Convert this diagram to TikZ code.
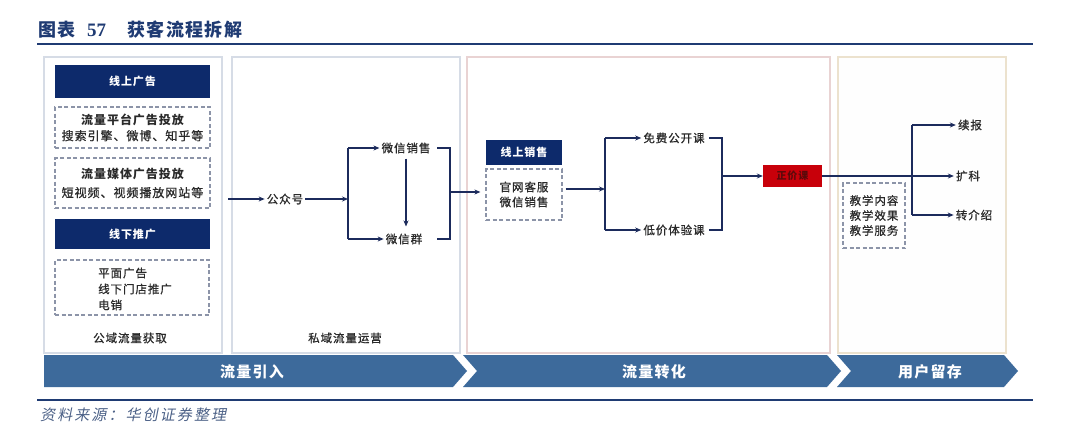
\documentclass[tikz,border=0pt]{standalone}
\usepackage{fontspec}
\usetikzlibrary{arrows.meta}
\setmainfont{Noto Sans CJK SC}
\newfontfamily\cjk[LetterSpace=8]{Noto Sans CJK SC}
\newfontfamily\cjkh[LetterSpace=8,FakeBold=0.8]{Noto Sans CJK SC}
\newfontfamily\cjkit[FakeSlant=0.2,LetterSpace=14]{Noto Sans CJK SC}
\newfontfamily\serifnum{Liberation Serif}
\definecolor{navy}{HTML}{0D2A6B}
\definecolor{titleblue}{HTML}{1F3B73}
\definecolor{chev}{HTML}{3D6A9B}
\definecolor{linec}{HTML}{1C2B5C}
\definecolor{txt}{HTML}{2A2A2A}
\definecolor{dashc}{HTML}{8C94A8}
\definecolor{pan12}{HTML}{D6DCE6}
\definecolor{pan3}{HTML}{E9D3D3}
\definecolor{pan4}{HTML}{ECE2CE}
\definecolor{redbox}{HTML}{C8000A}
\definecolor{darkred}{HTML}{5A0A0A}
\definecolor{srcc}{HTML}{4C6187}
\tikzset{
  panel/.style={draw=#1, line width=1.3pt, fill=white, inner sep=0pt},
  navybox/.style={fill=navy, text=white, inner sep=0pt, font=\cjk\bfseries\fontsize{11}{13}\selectfont},
  dbox/.style={draw=dashc, dash pattern=on 4pt off 2.5pt, line width=1.2pt, inner sep=0pt, align=center, text=txt},
  lbl/.style={text=txt, inner sep=2pt, font=\cjkh\fontsize{11.5}{14}\selectfont},
  flow/.style={draw=linec, line width=1.6pt},
  arr/.style={flow, -{Stealth[length=6pt,width=5pt]}},
  chevtext/.style={text=white, inner sep=0pt, font=\cjk\bfseries\fontsize{15}{18}\selectfont},
  ttl/.style={anchor=west, inner sep=0pt, text=titleblue}
}
\begin{document}
\begin{tikzpicture}[x=1pt,y=-1pt]
\useasboundingbox[fill=white] (0,0) rectangle (1080,442);
% title
\node[ttl, font=\cjk\bfseries\fontsize{18}{20}\selectfont] (t1) at (38,30) {图表};
\node[ttl, font=\serifnum\bfseries\fontsize{19}{20}\selectfont] (t2) at (87,30) {57};
\node[ttl, font=\cjk\bfseries\fontsize{18}{20}\selectfont] (t3) at (127,30) {获客流程拆解};
\coordinate (r1a) at (37,44); \coordinate (r1b) at (1033,44);
\draw[titleblue, line width=2.2pt] (r1a) -- (r1b);
% panels
\node[panel=pan12, minimum width=178, minimum height=296] (p1) at (133,205) {};
\node[panel=pan12, minimum width=228, minimum height=296] (p2) at (346,205) {};
\node[panel=pan3, minimum width=363, minimum height=296] (p3) at (648.5,205) {};
\node[panel=pan4, fill=white!97!pan4, minimum width=168, minimum height=296] (p4) at (922,205) {};
% panel 1
\node[navybox, minimum width=155, minimum height=33] (adon) at (132.5,81.5) {线上广告};
\node[dbox, minimum width=155, minimum height=41, font=\cjkh\fontsize{12}{16}\selectfont] (db1) at (132.5,127.5) {{\cjk\bfseries 流量平台广告投放}\\搜索引擎、微博、知乎等};
\node[dbox, minimum width=155, minimum height=50, font=\cjkh\fontsize{12}{19}\selectfont] (db2) at (132.5,183) {{\cjk\bfseries 流量媒体广告投放}\\短视频、视频播放网站等};
\node[navybox, minimum width=155, minimum height=30] (adoff) at (132.5,234) {线下推广};
\node[dbox, minimum width=154, minimum height=55] (db3) at (132,287.5) {};
\node[lbl, anchor=west, align=left, font=\cjkh\fontsize{11.5}{16}\selectfont] (db3t) at (96,289) {平面广告\\线下门店推广\\电销};
\node[lbl] (pubL) at (130,338) {公域流量获取};
% panel 2
\coordinate (s0) at (228,199);
\node[lbl] (gzh) at (285,199) {公众号};
\coordinate (j1) at (348,199);
\coordinate (j1t) at (348,148);
\coordinate (j1b) at (348,239);
\node[lbl] (wxs) at (406,148) {微信销售};
\node[lbl] (wxq) at (404,239) {微信群};
\draw[arr] (s0) -- (gzh);
\draw[arr] (gzh) -- (j1);
\draw[flow] (j1t) -- (j1b);
\draw[arr] (j1t) -- (wxs);
\draw[arr] (j1b) -- (wxq);
\draw[arr, shorten <=3pt, shorten >=5pt] (wxs.south) -- (wxs.south |- wxq.north);
\coordinate (b1a) at (437,148);
\coordinate (b1m) at (450,192);
\coordinate (b1d) at (437,239);
\draw[flow] (b1a) -| (b1m) |- (b1d);
\node[lbl] (priL) at (345,338) {私域流量运营};
% panel 3
\node[navybox, minimum width=76, minimum height=25] (sl) at (524,152.5) {线上销售};
\node[dbox, minimum width=76, minimum height=51, font=\cjkh\fontsize{11.5}{15}\selectfont] (db4) at (524,194.5) {官网客服\\微信销售};
\draw[arr, shorten >=5pt] (b1m) -- (b1m -| db4.west);
\coordinate (j2) at (605,189);
\coordinate (j2t) at (605,138);
\coordinate (j2b) at (605,230);
\draw[arr, shorten <=3pt] (db4.east |- j2) -- (j2);
\draw[flow] (j2t) -- (j2b);
\node[lbl] (mf) at (674,138) {免费公开课};
\node[lbl] (dj) at (674,230) {低价体验课};
\draw[arr] (j2t) -- (mf);
\draw[arr] (j2b) -- (dj);
\coordinate (b2a) at (709,138);
\coordinate (b2m) at (722,176);
\coordinate (b2d) at (709,230);
\draw[flow] (b2a) -| (b2m) |- (b2d);
\node[fill=redbox, inner sep=0pt, minimum width=59, minimum height=22, text=darkred, font=\cjk\bfseries\fontsize{10}{12}\selectfont] (zj) at (792.5,176) {正价课};
\draw[arr] (b2m) -- (b2m -| zj.west);
% panel 4
\coordinate (j3t) at (912,125);
\coordinate (j3b) at (912,215);
\node[lbl] (kk) at (968,176) {扩科};
\node[lbl] (xb) at (970,125) {续报};
\node[lbl] (zjs) at (974,215) {转介绍};
\draw[arr] (zj.east) -- (kk);
\draw[flow] (j3t) -- (j3b);
\draw[arr] (j3t) -- (xb);
\draw[arr] (j3b) -- (zjs);
\node[dbox, minimum width=62, minimum height=65, font=\cjkh\fontsize{11.5}{15}\selectfont] (db5) at (874,215.5) {教学内容\\教学效果\\教学服务};
% chevrons
\fill[chev] (44,355) -- (453,355) -- (467,371) -- (453,387) -- (44,387) -- cycle;
\fill[chev] (463,355) -- (827,355) -- (841,371) -- (827,387) -- (463,387) -- (477,371) -- cycle;
\fill[chev] (837,355) -- (1004,355) -- (1018,371) -- (1004,387) -- (837,387) -- (851,371) -- cycle;
\node[chevtext] (c1) at (252,372) {流量引入};
\node[chevtext] (c2) at (654,372) {流量转化};
\node[chevtext] (c3) at (930,372) {用户留存};
% bottom
\coordinate (r2a) at (37,400); \coordinate (r2b) at (1033,400);
\draw[titleblue, line width=2pt] (r2a) -- (r2b);
\node[anchor=west, inner sep=0pt, text=srcc, font=\cjkit\fontsize{15}{17}\selectfont] (src) at (40,415) {资料来源：华创证券整理};
\end{tikzpicture}
\end{document}
